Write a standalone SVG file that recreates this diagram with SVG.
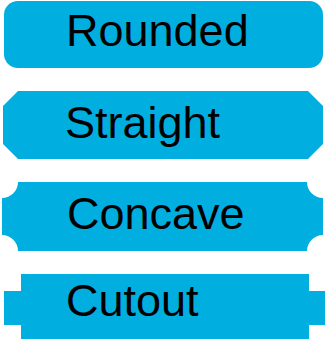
<svg xmlns="http://www.w3.org/2000/svg" width="328" height="339" viewBox="0 0 328 339">
<style>
.shape{fill:#00AEE0;stroke:none}
.lbl{font-family:"Liberation Sans",Arial,sans-serif;font-size:45px;fill:#000}
</style>
<rect width="328" height="339" fill="#fff"/>
<g id="rounded">
<rect class="shape" x="4" y="1" width="319" height="67" rx="14" ry="14"/>
<text class="lbl" x="66" y="46">Rounded</text>
</g>
<g id="straight">
<path class="shape" d="M18,91 L308,91 L323,106 L323,144 L308,159 L18,159 L3,144 L3,106 Z"/>
<text class="lbl" x="65" y="138">Straight</text>
</g>
<g id="concave">
<path class="shape" d="M18,182 L307,182 A16,16 0 0 0 323,198 L323,235 A16,16 0 0 0 307,251 L18,251 A16,16 0 0 0 2,235 L2,198 A16,16 0 0 0 18,182 Z"/>
<text class="lbl" x="67" y="229">Concave</text>
</g>
<g id="cutout">
<path class="shape" d="M21,274 L309,274 L309,291 L325,291 L325,325 L309,325 L309,342 L21,342 L21,325 L4,325 L4,291 L21,291 Z"/>
<text class="lbl" x="66" y="316">Cutout</text>
</g>
</svg>
